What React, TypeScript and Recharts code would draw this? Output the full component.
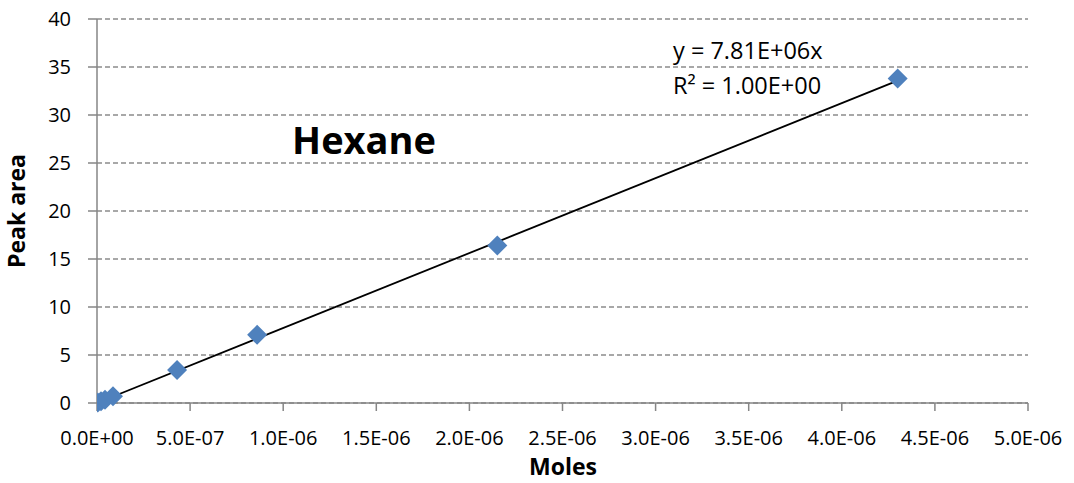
import { ScatterChart, Scatter, XAxis, YAxis, CartesianGrid, ReferenceLine, Customized } from 'recharts'

// calibration points: moles injected vs. peak area
const moles = [4.3e-9, 2.15e-8, 4.3e-8, 8.6e-8, 4.3e-7, 8.6e-7, 2.15e-6, 4.3e-6]
const peakArea = [0.04, 0.17, 0.35, 0.7, 3.45, 7.1, 16.4, 33.8]

// linear fit through the origin
const slope = 7.81e6
const equationText = 'y = 7.81E+06x'
const r2Text = 'R² = 1.00E+00'

const xTicks = [0, 5e-7, 1e-6, 1.5e-6, 2e-6, 2.5e-6, 3e-6, 3.5e-6, 4e-6, 4.5e-6, 5e-6]
const yTicks = [0, 5, 10, 15, 20, 25, 30, 35, 40]

const data = moles.map((x, i) => ({ x, y: peakArea[i] }))
const fitEnd = moles[moles.length - 1]

const FONT = '"Open Sans", sans-serif'
const AXIS_GREY = '#868686'

// 0.0E+00 style labels
const sci = (v: number) => {
  const [m, e] = v.toExponential(1).split('e')
  return `${m}E${e[0]}${e.slice(1).padStart(2, '0')}`
}

const Diamond = (props: any) => {
  const { cx, cy } = props
  const r = 10
  return (
    <polygon
      points={`${cx},${cy - r} ${cx + r},${cy} ${cx},${cy + r} ${cx - r},${cy}`}
      fill="#4f81bd"
    />
  )
}

const Annotations = () => (
  <g fontFamily={FONT} fill="#000">
    <text x={364} y={154} fontSize={38} fontWeight={700} textAnchor="middle">Hexane</text>
    <text x={673} y={59} fontSize={23.5}>{equationText}</text>
    <text x={673} y={94} fontSize={23.5}>{r2Text}</text>
    <text transform="translate(25,211) rotate(-90)" fontSize={23} fontWeight={700} textAnchor="middle">Peak area</text>
    <text x={563} y={475} fontSize={23} fontWeight={700} textAnchor="middle">Moles</text>
  </g>
)

export default function App() {
  return (
    <div style={{ position: 'absolute', left: 0, top: 0, background: '#fff' }}>
      <ScatterChart width={1074} height={483} margin={{ top: 19, right: 46, bottom: 0, left: 0 }}>
        <CartesianGrid vertical={false} stroke="#8c8c8c" strokeWidth={1.5} strokeDasharray="5 3" />
        <XAxis
          type="number"
          dataKey="x"
          domain={[0, 5e-6]}
          ticks={xTicks}
          tickFormatter={sci}
          height={80}
          tickSize={8}
          tickMargin={20}
          stroke={AXIS_GREY}
          strokeWidth={1.5}
          tick={{ fill: '#000', fontSize: 20, fontFamily: FONT }}
          allowDataOverflow
        />
        <YAxis
          type="number"
          dataKey="y"
          domain={[0, 40]}
          ticks={yTicks}
          width={97}
          tickSize={9}
          tickMargin={17}
          stroke={AXIS_GREY}
          strokeWidth={1.5}
          tick={{ fill: '#000', fontSize: 20, fontFamily: FONT }}
        />
        <Scatter data={data} shape={<Diamond />} isAnimationActive={false} />
        <ReferenceLine
          segment={[{ x: 0, y: 0 }, { x: fitEnd, y: slope * fitEnd }]}
          stroke="#000"
          strokeWidth={1.8}
        />
        <Customized component={Annotations} />
      </ScatterChart>
    </div>
  )
}
